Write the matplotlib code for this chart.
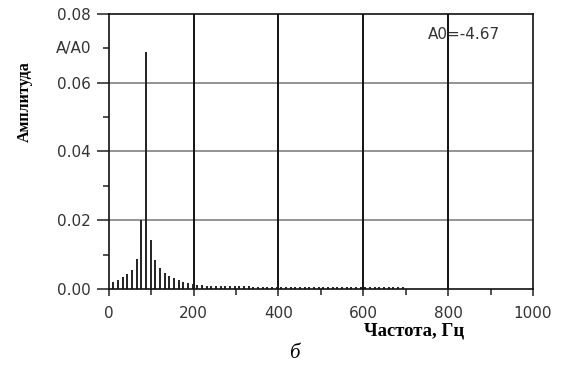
import matplotlib
matplotlib.use("Agg")
import matplotlib.pyplot as plt
import numpy as np

# Data
freq_step = 11.0
amplitudes = [
    0.0021, 0.0027, 0.0034, 0.0042, 0.0054, 0.0088, 0.0200, 0.0690,
    0.0142, 0.0085, 0.0062, 0.0047, 0.0037, 0.0031, 0.0027, 0.0021,
    0.0016, 0.0014, 0.0011, 0.0010, 0.0009, 0.0008, 0.0008, 0.0007,
    0.0007, 0.0007, 0.0007, 0.0007, 0.0008, 0.0007, 0.0006, 0.0006,
    0.0006, 0.0006, 0.0006, 0.0006, 0.0006, 0.0006, 0.0006, 0.0006,
    0.0006, 0.0006, 0.0006, 0.0006, 0.0006, 0.0006, 0.0006, 0.0006,
    0.0005, 0.0005, 0.0005, 0.0005, 0.0005, 0.0005, 0.0005, 0.0005,
    0.0005, 0.0005, 0.0005, 0.0005, 0.0005, 0.0005, 0.0005,
]
frequencies = [freq_step * (i + 1) for i in range(len(amplitudes))]

x_ticks = [0, 200, 400, 600, 800, 1000]
x_minor = [100, 300, 500, 700, 900]
y_ticks = [0.00, 0.02, 0.04, 0.06, 0.08]
y_minor = [0.01, 0.03, 0.05, 0.07]
y_tick_labels = ["0.00", "0.02", "0.04", "0.06", "0.08"]
vgrid = [200, 400, 600, 800]
hgrid = [0.02, 0.04, 0.06]

fig = plt.figure(figsize=(5.61, 3.68), dpi=100)
ax = fig.add_axes([0.194, 0.215, 0.756, 0.747])

ax.set_xlim(0, 1000)
ax.set_ylim(0, 0.08)

for g in hgrid:
    ax.axhline(g, color="#777777", lw=1.1, zorder=1)
for g in vgrid:
    ax.axvline(g, color="#111111", lw=1.4, zorder=1)

ax.vlines(frequencies, 0, amplitudes, color="#222222", lw=1.4, zorder=2)

for s in ax.spines.values():
    s.set_color("#111111")
    s.set_linewidth(1.2)

sans = "DejaVu Sans"
ax.set_xticks(x_ticks)
ax.set_xticklabels([str(t) for t in x_ticks], fontsize=11, family=sans, color="#333333")
ax.set_xticks(x_minor, minor=True)
ax.set_yticks(y_ticks)
ax.set_yticklabels(y_tick_labels, fontsize=11, family=sans, color="#333333")
ax.set_yticks(y_minor, minor=True)
ax.tick_params(axis="y", which="major", direction="out", length=9, width=1.1, color="#222222", pad=4)
ax.tick_params(axis="y", which="minor", direction="out", length=4, width=1.1, color="#222222")
ax.tick_params(axis="x", which="major", direction="out", length=5, width=1.1, color="#222222", pad=7)
ax.tick_params(axis="x", which="minor", direction="out", length=4, width=1.1, color="#222222")

ax.text(-0.04, 0.07, "A/A0", transform=ax.get_yaxis_transform(), ha="right", va="center",
        fontsize=11, family=sans, color="#333333")
ax.text(0.752, 0.925, "A0=-4.67", transform=ax.transAxes, ha="left", va="center",
        fontsize=11, family=sans, color="#333333")

fig.text(25 / 561, 1 - 102 / 368, "Амплитуда", rotation=90, ha="center", va="center",
         fontsize=11.5, family="Liberation Serif", fontweight="bold")
fig.text(364 / 561, 1 - 331 / 368, "Частота, Гц", ha="left", va="center",
         fontsize=13.5, family="Liberation Serif", fontweight="bold")
fig.text(294 / 561, 1 - 353 / 368, "б", ha="center", va="center",
         fontsize=15, family="Liberation Serif", style="italic")

fig.savefig("out.png", dpi=100)
